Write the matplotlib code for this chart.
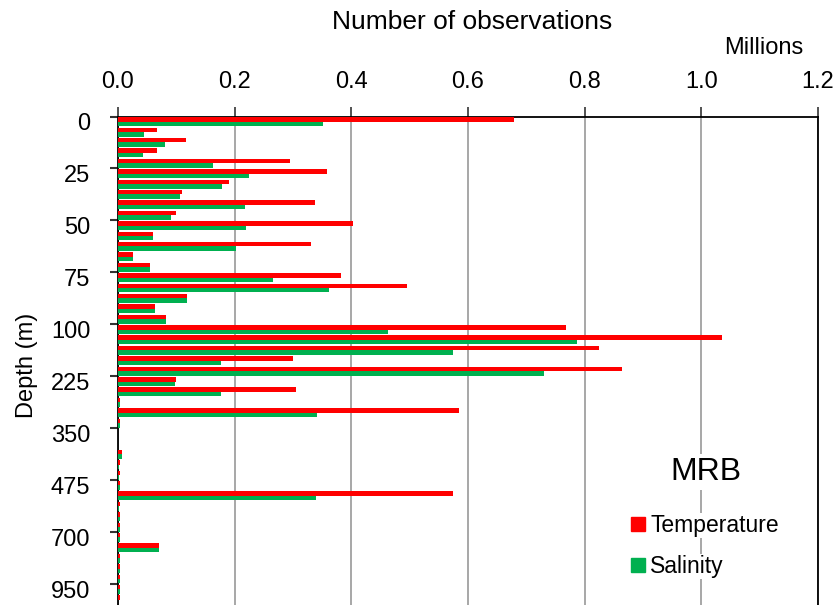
import numpy as np
import matplotlib.pyplot as plt
from matplotlib.patches import Patch

plt.rcParams['font.family'] = ['Liberation Sans', 'DejaVu Sans']

# standard depth levels (m)
depths = [0, 5, 10, 15, 20, 25, 30, 35, 40, 45, 50, 55, 60, 65, 70, 75, 80, 85, 90, 95, 100,
          125, 150, 175, 200, 225, 250, 275, 300, 325, 350, 375, 400, 425, 450, 475, 500,
          550, 600, 650, 700, 750, 800, 850, 900, 950, 1000]

# number of observations, millions
temperature = [0.678, 0.067, 0.117, 0.067, 0.295, 0.359, 0.190, 0.110, 0.338, 0.099,
               0.402, 0.060, 0.331, 0.026, 0.055, 0.382, 0.495, 0.119, 0.064, 0.082,
               0.768, 1.035, 0.825, 0.300, 0.864, 0.099, 0.305, 0.003, 0.585, 0.003,
               0.0, 0.0, 0.0074, 0.003, 0.003, 0.003, 0.574, 0.003, 0.003, 0.003,
               0.003, 0.071, 0.003, 0.003, 0.003, 0.003, 0.003]
salinity = [0.352, 0.044, 0.081, 0.042, 0.163, 0.224, 0.179, 0.106, 0.217, 0.090,
            0.219, 0.060, 0.203, 0.026, 0.055, 0.266, 0.362, 0.119, 0.064, 0.083,
            0.462, 0.786, 0.574, 0.177, 0.731, 0.097, 0.177, 0.003, 0.341, 0.003,
            0.0, 0.0, 0.0074, 0.002, 0.002, 0.003, 0.339, 0.002, 0.003, 0.003,
            0.003, 0.071, 0.003, 0.003, 0.003, 0.003, 0.0]

x_ticks = [0.0, 0.2, 0.4, 0.6, 0.8, 1.0, 1.2]

red = '#FF0000'
green = '#00B050'

fig = plt.figure(figsize=(8.4, 6.05), dpi=100)
ax = fig.add_axes([118/840, 0.0, 700/840, 1 - 116.5/605])

pos = np.arange(len(depths))
h = 0.43
ax.barh(pos - h/2, temperature, height=h, color=red, zorder=3)
ax.barh(pos + h/2, salinity, height=h, color=green, zorder=3)

ax.set_xlim(0, 1.2)
ax.set_ylim(len(depths) - 0.5, -0.5)

# x axis on top
ax.xaxis.tick_top()
ax.set_xticks(x_ticks)
ax.set_xticklabels(['%.1f' % v for v in x_ticks], fontsize=17)
ax.tick_params(axis='x', length=7, width=1.2, pad=10, color='#333333')
ax.grid(axis='x', color='#A0A0A0', lw=1.3, zorder=1)

# y axis: labels every 5th level, ticks at category boundaries
ax.set_yticks(pos[::5])
ax.set_yticklabels([str(depths[i]) for i in pos[::5]], fontsize=17)
ax.set_yticks(np.arange(-0.5, len(depths) - 1, 5), minor=True)
ax.tick_params(axis='y', which='major', length=0, pad=20)
ax.tick_params(axis='y', which='minor', length=6, width=1.5, color='#333333')

for s in ['top', 'left', 'right']:
    ax.spines[s].set_linewidth(1.3)
    ax.spines[s].set_color('black')
ax.spines['bottom'].set_visible(False)

fig.text(472/840, 1 - 22/605, 'Number of observations', fontsize=19, ha='center', va='center')
fig.text(764/840, 1 - 48/605, 'Millions', fontsize=17, ha='center', va='center')
fig.text(27/840, 1 - 365/605, 'Depth (m)', fontsize=17, rotation=90, ha='center', va='center')

fig.text(706/840, 1 - 472/605, 'MRB', fontsize=23, ha='center', va='center',
         bbox=dict(facecolor='white', edgecolor='none', pad=2), zorder=5)

handles = [Patch(color=red, label='Temperature'), Patch(color=green, label='Salinity')]
leg = fig.legend(handles=handles, loc='upper left', bbox_to_anchor=(631/840, 1 - 514/605),
                 frameon=False, fontsize=16.5, handlelength=0.6, handleheight=0.55,
                 handletextpad=0.25, labelspacing=0.78, borderpad=0, borderaxespad=0)
for t in leg.get_texts():
    t.set_bbox(dict(facecolor='white', edgecolor='none', pad=1))

fig.savefig('out.png', dpi=100)
